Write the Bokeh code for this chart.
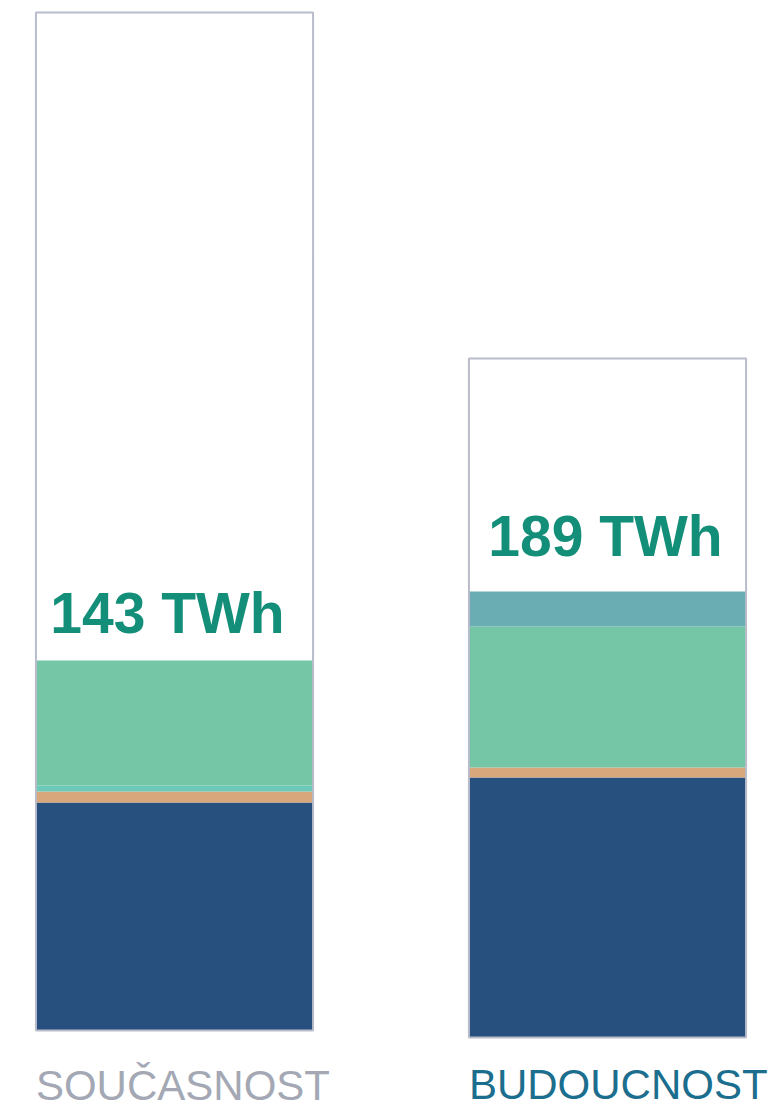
import numpy as np
from bokeh.plotting import figure
from bokeh.models import Range1d, ColumnDataSource, LabelSet
from bokeh.core.properties import value
from bokeh.embed import file_html
from bokeh.resources import INLINE

# ---- data ----
categories = ["SOUČASNOST", "BUDOUCNOST"]
totals_label = ["143 TWh", "189 TWh"]
series_names = ["dark", "tan", "light", "green", "teal"]
base = [78, 71]               # bottom of each bar
box_height = [1018, 679]      # height of the outlined box
dark = [228, 260]
tan = [11, 10]
light = [6, 0]
green = [125, 141]
teal = [0, 35]

# ---- styles ----
colors = {"dark": "#28507f", "tan": "#d8a77c", "light": "#6dc9b7",
          "green": "#74c6a7", "teal": "#6aaeb4"}
cat_colors = ["#a3a8b4", "#1b6e8e"]
label_offsets = [28, 36]
label_xoff = [-7, -2]
bar_w = 0.64

p = figure(width=780, height=1108, output_backend="svg", toolbar_location=None,
           x_range=Range1d(-0.40185, 1.39954), y_range=Range1d(0, 1108),
           min_border=0, outline_line_color=None)
p.xaxis.visible = False
p.yaxis.visible = False
p.xgrid.visible = False
p.ygrid.visible = False

x = np.arange(len(categories))
base_a = np.array(base, dtype=float)
box_top = base_a + np.array(box_height)

# white box
p.vbar(x=x, width=bar_w, bottom=base_a, top=box_top, fill_color="white",
       line_color=None)

vals = {"dark": dark, "tan": tan, "light": light, "green": green, "teal": teal}
bottom = base_a.copy()
for name in series_names:
    v = np.array(vals[name], dtype=float)
    p.vbar(x=x, width=bar_w, bottom=bottom, top=bottom + v,
           fill_color=colors[name], line_color=None)
    bottom = bottom + v
fill_top = bottom

# outline on top
p.vbar(x=x, width=bar_w, bottom=base_a, top=box_top, fill_alpha=0,
       line_color="#b9bccb", line_width=2)

# total labels
src_tot = ColumnDataSource(dict(x=x, y=fill_top + np.array(label_offsets),
                                xo=label_xoff, text=totals_label))
p.add_layout(LabelSet(x="x", y="y", text="text", source=src_tot, x_offset="xo",
                      text_align="center", text_baseline="alphabetic",
                      text_font=value("Liberation Sans"), text_font_style="bold",
                      text_font_size="57px", text_color="#138e79"))

# category labels
src_cat = ColumnDataSource(dict(x=x - bar_w / 2, y=[9, 10], text=categories,
                                color=cat_colors))
p.add_layout(LabelSet(x="x", y="y", text="text", source=src_cat,
                      text_align="left", text_baseline="alphabetic",
                      text_font=value("Liberation Sans"), text_font_size="42px",
                      text_color="color"))

open("out.html", "w").write(file_html(p, INLINE))
